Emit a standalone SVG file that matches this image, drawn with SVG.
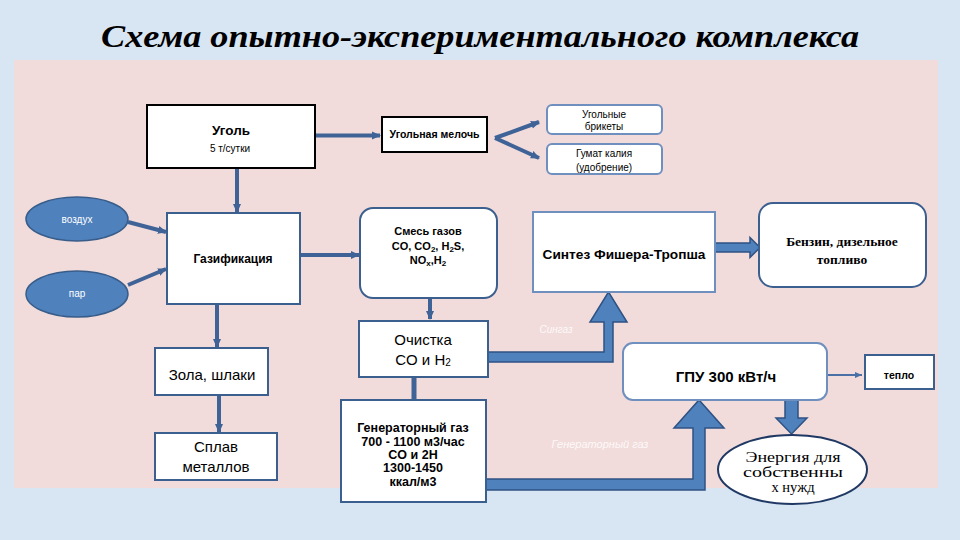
<svg xmlns="http://www.w3.org/2000/svg" width="960" height="540" viewBox="0 0 960 540">
  <defs>
    <style>
      .box{fill:#ffffff;stroke:#3b5f8f;stroke-width:2}
      .boxk{fill:#ffffff;stroke:#000000;stroke-width:2}
      .boxl{fill:#ffffff;stroke:#6f8fbe;stroke-width:2}
      .ell{fill:#4f81bd;stroke:#385d8a;stroke-width:1.5}
      .conn{fill:none;stroke:#3f6397;stroke-width:4}
      .thick{fill:none;stroke:#3f6397;stroke-width:5}
      .blk{fill:#4f81bd;stroke:#2f5283;stroke-width:1.5}
      .t{font-family:"Liberation Sans","DejaVu Sans",sans-serif;fill:#000;text-anchor:middle}
      .b{font-weight:bold}
      .s{font-family:"Liberation Serif","DejaVu Serif",serif;fill:#000;text-anchor:middle}
      .w{font-family:"Liberation Sans","DejaVu Sans",sans-serif;fill:#ffffff;text-anchor:middle}
    </style>
    <marker id="ah" markerUnits="userSpaceOnUse" markerWidth="10" markerHeight="10" refX="8" refY="5" orient="auto">
      <path d="M0,1 L9,5 L0,9 Z" fill="#3f6397"/>
    </marker>
    <marker id="ahs" markerUnits="userSpaceOnUse" markerWidth="8" markerHeight="8" refX="7" refY="4" orient="auto">
      <path d="M0,1 L7,4 L0,7 Z" fill="#4a70a6"/>
    </marker>
  </defs>

  <rect x="0" y="0" width="960" height="540" fill="#d8e5f2"/>
  <rect x="14" y="60" width="924" height="428" fill="#f2dcdb"/>

  <text x="480" y="47" font-family="'Liberation Serif','DejaVu Serif',serif" font-size="32" font-weight="bold" font-style="italic" text-anchor="middle" textLength="758" lengthAdjust="spacingAndGlyphs" fill="#000">Схема опытно-экспериментального комплекса</text>

  <g id="connectors">
    <line class="conn" x1="315" y1="135.5" x2="380" y2="135.5" marker-end="url(#ah)"/>
    <line class="conn" x1="237" y1="168" x2="237" y2="212" marker-end="url(#ah)"/>
    <line class="conn" x1="128" y1="222" x2="166" y2="232" marker-end="url(#ah)"/>
    <line class="conn" x1="128" y1="285" x2="166" y2="269" marker-end="url(#ah)"/>
    <line class="conn" x1="300" y1="255" x2="359" y2="255" marker-end="url(#ah)"/>
    <line class="conn" x1="495" y1="138" x2="539" y2="122" marker-end="url(#ah)"/>
    <line class="conn" x1="495" y1="138" x2="539" y2="158" marker-end="url(#ah)"/>
    <line class="conn" x1="430" y1="298" x2="430" y2="319" marker-end="url(#ah)"/>
    <line class="thick" x1="414" y1="377" x2="414" y2="400"/>
    <line class="conn" x1="217" y1="304" x2="217" y2="347" marker-end="url(#ah)"/>
    <line class="conn" x1="219" y1="395" x2="219" y2="432" marker-end="url(#ah)"/>
    <line x1="827" y1="375" x2="862" y2="375" stroke="#4a70a6" stroke-width="2" marker-end="url(#ahs)"/>
    <path class="blk" d="M715,243 L750,243 L750,237.5 L760,247.5 L750,257.5 L750,252 L715,252 Z"/>
    <path class="blk" d="M488,352 L604,352 L604,322 L590,322 L608.5,292 L627,322 L613,322 L613,362 L488,362 Z"/>
    <path class="blk" d="M486,479 L693,479 L693,428 L674,428 L699,400 L724,428 L705,428 L705,490 L486,490 Z"/>
    <path class="blk" d="M785,400 L798,400 L798,418 L807,418 L791.5,434 L776,418 L785,418 Z"/>
    <text class="w" x="556" y="333" font-size="10" font-style="italic" opacity="0.85">Сингаз</text>
    <text class="w" x="600" y="448" font-size="11" font-style="italic" opacity="0.85">Генераторный газ</text>
  </g>

  <g id="ugol">
    <rect class="boxk" x="147" y="105" width="168" height="63"/>
    <text class="t b" x="231" y="135" font-size="13.5">Уголь</text>
    <text class="t" x="230" y="152" font-size="10">5 т/сутки</text>
  </g>

  <g id="vozduh">
    <ellipse class="ell" cx="77" cy="219" rx="51" ry="22"/>
    <text class="w" x="77" y="223" font-size="10">воздух</text>
  </g>

  <g id="par">
    <ellipse class="ell" cx="77" cy="294" rx="51" ry="23"/>
    <text class="w" x="77" y="297" font-size="10">пар</text>
  </g>

  <g id="gazifikaciya">
    <rect class="box" x="167" y="213" width="133" height="91"/>
    <text class="t b" x="233" y="263" font-size="12">Газификация</text>
  </g>

  <g id="melochj">
    <rect class="boxk" x="382" y="117" width="105" height="35"/>
    <text class="t" x="434.5" y="138" font-size="10" font-weight="bold" textLength="90" lengthAdjust="spacingAndGlyphs">Угольная мелочь</text>
  </g>

  <g id="brikety">
    <rect class="boxl" x="547" y="105" width="115" height="29" rx="5"/>
    <text class="t" x="604" y="117.5" font-size="10">Угольные</text>
    <text class="t" x="604" y="130" font-size="10">брикеты</text>
  </g>

  <g id="gumat">
    <rect class="boxl" x="547" y="144" width="115" height="30" rx="5"/>
    <text class="t" x="604" y="157" font-size="10">Гумат калия</text>
    <text class="t" x="604" y="171" font-size="10">(удобрение)</text>
  </g>

  <g id="smes">
    <rect class="box" x="360" y="208" width="137" height="90" rx="13"/>
    <text class="t b" x="428" y="235" font-size="11">Смесь газов</text>
    <text class="t b" x="428" y="250" font-size="11">CO, CO<tspan font-size="8" dy="2">2</tspan><tspan dy="-2">, H</tspan><tspan font-size="8" dy="2">2</tspan><tspan dy="-2">S,</tspan></text>
    <text class="t b" x="428" y="264" font-size="11">NO<tspan font-size="8" dy="2">x</tspan><tspan dy="-2">,H</tspan><tspan font-size="8" dy="2">2</tspan></text>
  </g>

  <g id="sintez">
    <rect class="boxl" x="533" y="212" width="182" height="80"/>
    <text class="t b" x="624" y="259" font-size="12.5" textLength="163" lengthAdjust="spacingAndGlyphs">Синтез Фишера-Тропша</text>
  </g>

  <g id="benzin">
    <rect class="box" x="759" y="203" width="167" height="84" rx="14"/>
    <text x="842" y="246" font-family="'Liberation Serif','DejaVu Serif',serif" font-weight="bold" font-size="13.5" text-anchor="middle" fill="#000">Бензин, дизельное</text>
    <text x="842" y="264" font-family="'Liberation Serif','DejaVu Serif',serif" font-weight="bold" font-size="13.5" text-anchor="middle" fill="#000">топливо</text>
  </g>

  <g id="ochistka">
    <rect class="box" x="359" y="321" width="129" height="56"/>
    <text class="t" x="423" y="345" font-size="15">Очистка</text>
    <text class="t" x="423" y="365" font-size="15">CO и H<tspan font-size="10" dy="1">2</tspan></text>
  </g>

  <g id="zola">
    <rect class="box" x="155" y="348" width="113" height="47" stroke="#5b7fb5"/>
    <text class="t" x="212" y="380" font-size="15">Зола, шлаки</text>
  </g>

  <g id="splav">
    <rect class="box" x="155" y="433" width="122" height="47" stroke="#5b7fb5"/>
    <text class="t" x="216" y="452" font-size="15">Сплав</text>
    <text class="t" x="216" y="472" font-size="15">металлов</text>
  </g>

  <g id="generatornyj">
    <rect class="box" x="341" y="400" width="145" height="102"/>
    <text class="t b" x="413" y="432" font-size="12.5">Генераторный газ</text>
    <text class="t b" x="413" y="445.5" font-size="12.5">700 - 1100 м3/час</text>
    <text class="t b" x="413" y="459" font-size="12.5">CO и 2H</text>
    <text class="t b" x="413" y="472" font-size="12.5">1300-1450</text>
    <text class="t b" x="413" y="486" font-size="12.5">ккал/м3</text>
  </g>

  <g id="gpu">
    <rect class="boxl" x="623" y="343" width="204" height="57" rx="10"/>
    <text class="t b" x="726" y="382" font-size="15">ГПУ 300 кВт/ч</text>
  </g>

  <g id="teplo">
    <rect class="box" x="865" y="355" width="69" height="34"/>
    <text class="t b" x="899" y="379" font-size="10.5">тепло</text>
  </g>

  <g id="energiya">
    <ellipse cx="792.5" cy="469.5" rx="74.5" ry="34.5" fill="#ffffff" stroke="#1f3864" stroke-width="2"/>
    <text class="s" x="793" y="462" font-size="14.5" textLength="95" lengthAdjust="spacingAndGlyphs">Энергия для</text>
    <text class="s" x="793" y="477" font-size="14.5" textLength="100" lengthAdjust="spacingAndGlyphs">собственны</text>
    <text class="s" x="793" y="492" font-size="14.5">х нужд</text>
  </g>
</svg>
